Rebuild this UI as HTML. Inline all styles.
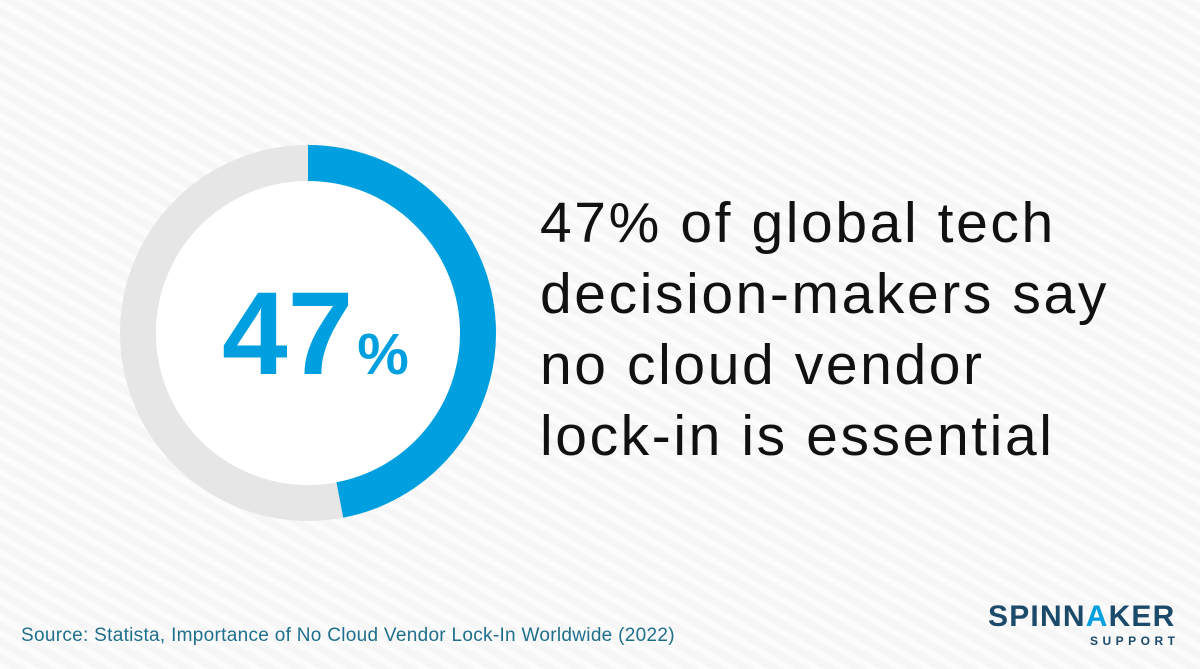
<!DOCTYPE html>
<html><head><meta charset="utf-8">
<style>
html,body{margin:0;padding:0}
body{width:1200px;height:669px;position:relative;overflow:hidden;font-family:"Liberation Sans",sans-serif;
background:#f6f6f6;
background-image:repeating-linear-gradient(30deg,rgba(255,255,255,0.7) 0 6px,rgba(0,0,0,0) 6px 14px);}
.stmt{position:absolute;left:540px;top:188px;font-size:57px;line-height:71px;color:#111;letter-spacing:2.6px}
.src{position:absolute;left:21px;top:625px;font-size:19px;color:#1f6f8b;letter-spacing:0.3px}
.logo{position:absolute;left:988px;top:600px;font-size:30px;font-weight:bold;color:#1b4a6b;letter-spacing:1.2px}
.sup{position:absolute;left:1090px;top:634px;font-size:12px;font-weight:bold;color:#1b4a6b;letter-spacing:4.5px}
</style></head><body>
<svg id="chart" width="1200" height="669" style="position:absolute;left:0;top:0">
<circle cx="308" cy="333" r="170" fill="none" stroke="#e6e6e6" stroke-width="36"/>
<circle cx="308" cy="333" r="152" fill="#ffffff"/>
<path id="arc" fill="none" stroke="#009fdf" stroke-width="36"/>
<text x="222" y="374" font-family="Liberation Sans, sans-serif" font-weight="bold" font-size="118" fill="#009fdf"><tspan id="valnum">47</tspan><tspan font-size="58" dx="4">%</tspan></text>
</svg>
<script>
const values=[47];
const total=100;
(function(){
 const cx=308,cy=333,r=170;
 const a=values[0]/total*2*Math.PI;
 const x=cx+r*Math.sin(a),y=cy-r*Math.cos(a);
 const large=a>Math.PI?1:0;
 document.getElementById('arc').setAttribute('d',`M${cx} ${cy-r} A${r} ${r} 0 ${large} 1 ${x} ${y}`);
 document.getElementById('valnum').textContent=values[0];
})();
</script>
<div class="stmt">47% of global tech<br>decision-makers say<br>no cloud vendor<br>lock-in is essential</div>
<div class="src">Source: Statista, Importance of No Cloud Vendor Lock-In Worldwide (2022)</div>
<div class="logo">SPINN<span style="color:#009fdf">A</span>KER</div>
<div class="sup">SUPPORT</div>
</body></html>
